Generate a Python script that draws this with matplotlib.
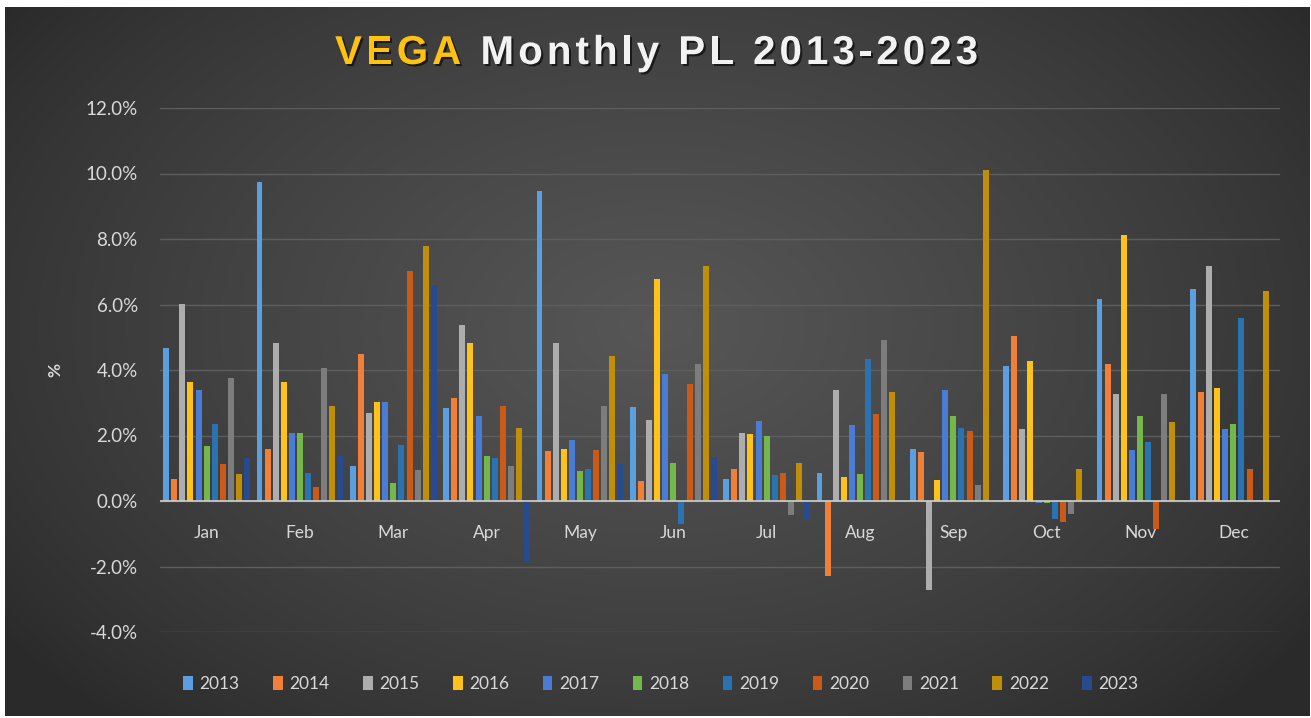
import numpy as np
import matplotlib
matplotlib.use("Agg")
import matplotlib.pyplot as plt
import matplotlib.patheffects as pe

months = ["Jan", "Feb", "Mar", "Apr", "May", "Jun", "Jul", "Aug", "Sep", "Oct", "Nov", "Dec"]
years = ["2013", "2014", "2015", "2016", "2017", "2018", "2019", "2020", "2021", "2022", "2023"]

v2013 = [4.68, 9.73, 1.06, 2.84, 9.46, 2.86, 0.68, 0.87, 1.60, 4.12, 6.16, 6.47]
v2014 = [0.68, 1.60, 4.49, 3.14, 1.53, 0.61, 0.99, -2.28, 1.49, 5.04, 4.18, 3.32]
v2015 = [6.02, 4.81, 2.70, 5.36, 4.81, 2.47, 2.09, 3.39, -2.73, 2.21, 3.27, 7.18]
v2016 = [3.64, 3.64, 3.01, 4.81, 1.59, 6.78, 2.04, 0.73, 0.63, 4.26, 8.11, 3.44]
v2017 = [3.39, 2.09, 3.01, 2.59, 1.86, 3.88, 2.44, 2.32, 3.39, -0.05, 1.55, 2.21]
v2018 = [1.68, 2.09, 0.56, 1.36, 0.92, 1.16, 1.99, 0.82, 2.59, -0.05, 2.59, 2.34]
v2019 = [2.35, 0.87, 1.72, 1.30, 0.98, -0.69, 0.79, 4.34, 2.23, -0.54, 1.79, 5.59]
v2020 = [1.12, 0.43, 7.01, 2.91, 1.55, 3.57, 0.84, 2.65, 2.14, -0.64, -0.85, 0.99]
v2021 = [3.76, 4.05, 0.94, 1.06, 2.90, 4.17, -0.42, 4.92, 0.48, -0.39, 3.27, 0.04]
v2022 = [0.82, 2.90, 7.80, 2.23, 4.44, 7.19, 1.16, 3.32, 10.12, 0.99, 2.40, 6.40]
v2023 = [1.30, 1.38, 6.60, -1.82, 1.12, 1.35, -0.57, 0.0, 0.0, 0.0, 0.0, 0.0]
series = [v2013, v2014, v2015, v2016, v2017, v2018, v2019, v2020, v2021, v2022, v2023]

colors = ["#5b9fe0", "#f07f3a", "#adadad", "#ffc21a", "#4a7cd4", "#74b84c",
          "#2a72b0", "#c95a17", "#7d7d7d", "#bf8f0a", "#284a8e"]

W, H = 1311, 718
fig = plt.figure(figsize=(W / 100, H / 100), dpi=100, facecolor="white")

# background panel with radial gradient
bx0, by0, bx1, by1 = 5, 2, 1310, 711  # pixel coords (from bottom)
bg = fig.add_axes([bx0 / W, by0 / H, (bx1 - bx0) / W, (by1 - by0) / H])
bg.set_axis_off()
yy, xx = np.mgrid[0:1:300j, 0:1:600j]
rr = np.sqrt(((xx - 0.5) / 0.62) ** 2 + ((yy - 0.45) / 0.75) ** 2)
shade = np.clip(1 - rr, 0, 1)
lo, hi = np.array([0.165, 0.165, 0.165]), np.array([0.34, 0.34, 0.34])
img = lo + (hi - lo) * shade[..., None] ** 0.8
bg.imshow(img, aspect="auto", extent=[0, 1, 0, 1], interpolation="bilinear")

# main axes
ax_l, ax_r = 160, 1280
ax_top, ax_bot = 108, 632
ax = fig.add_axes([ax_l / W, (H - ax_bot) / H, (ax_r - ax_l) / W, (ax_bot - ax_top) / H])
ax.patch.set_alpha(0)

n = len(series)
slot = 0.0868
bw = 0.064
x = np.arange(len(months))
for i, (vals, c, yr) in enumerate(zip(series, colors, years)):
    off = (i - (n - 1) / 2) * slot
    ax.bar(x + off, vals, width=bw, color=c, label=yr, zorder=3, linewidth=0)

ax.set_xlim(-0.5, len(months) - 0.5)
ax.set_ylim(-4, 12)
ticks = np.arange(-4, 12.1, 2)
ax.set_yticks(ticks)
ax.set_yticklabels([f"{v:.1f}%" for v in ticks])
ax.yaxis.grid(True, color="#5e5e5e", linewidth=1.0, zorder=0)
ax.axhline(0, color="#cfcfcf", linewidth=1.2, zorder=4)

for s in ax.spines.values():
    s.set_visible(False)
ax.spines["bottom"].set_position(("data", 0))
ax.set_xticks(x)
ax.set_xticklabels(months)
ax.tick_params(axis="x", length=0, pad=17, labelsize=12.5, labelcolor="#d9d9d9")
ax.tick_params(axis="y", length=0, pad=16, labelsize=13.5, labelcolor="#d9d9d9")
for lab in ax.get_xticklabels() + ax.get_yticklabels():
    lab.set_fontfamily("Lato")

fig.text(55 / W, 1 - 370 / H, "%", rotation=90, ha="center", va="center",
         fontsize=12.5, fontweight="bold", color="#d9d9d9", family="Lato")

# title, drawn with letter spacing
title_parts = [("VEGA", "#ffc20e"), (" Monthly PL 2013-2023", "#f2f2f2")]
tsize = 29
target_l, target_r = 335, 978
ty = 1 - 53 / H
shadow = [pe.withSimplePatchShadow(offset=(1.5, -1.5), shadow_rgbFace="black", alpha=0.6)]
fig.canvas.draw()
rend = fig.canvas.get_renderer()
chars = []
for text, col in title_parts:
    for ch in text:
        chars.append((ch, col))
widths = []
for ch, col in chars:
    t = fig.text(0, 0, ch if ch != " " else "a a", fontsize=tsize, fontweight="bold",
                 family="Liberation Sans")
    w = t.get_window_extent(rend).width
    if ch == " ":
        t2 = fig.text(0, 0, "aa", fontsize=tsize, fontweight="bold", family="Liberation Sans")
        w = w - t2.get_window_extent(rend).width
        t2.remove()
    t.remove()
    widths.append(w)
total = sum(widths)
track = (target_r - target_l - total) / (len(chars) - 1)
xp = target_l
for (ch, col), w in zip(chars, widths):
    if ch != " ":
        fig.text(xp / W, ty, ch, ha="left", va="center", fontsize=tsize, fontweight="bold",
                 color=col, family="Liberation Sans", path_effects=shadow)
    xp += w + track

leg = ax.legend(loc="center", bbox_to_anchor=(661 / W, 1 - 684 / H),
                bbox_transform=fig.transFigure, ncol=11, frameon=False,
                handlelength=0.55, handleheight=0.9, handletextpad=0.4,
                columnspacing=1.92, prop={"family": "Lato", "size": 12.5})
for t in leg.get_texts():
    t.set_color("#d9d9d9")

fig.savefig("out.png", dpi=100, facecolor="white")
